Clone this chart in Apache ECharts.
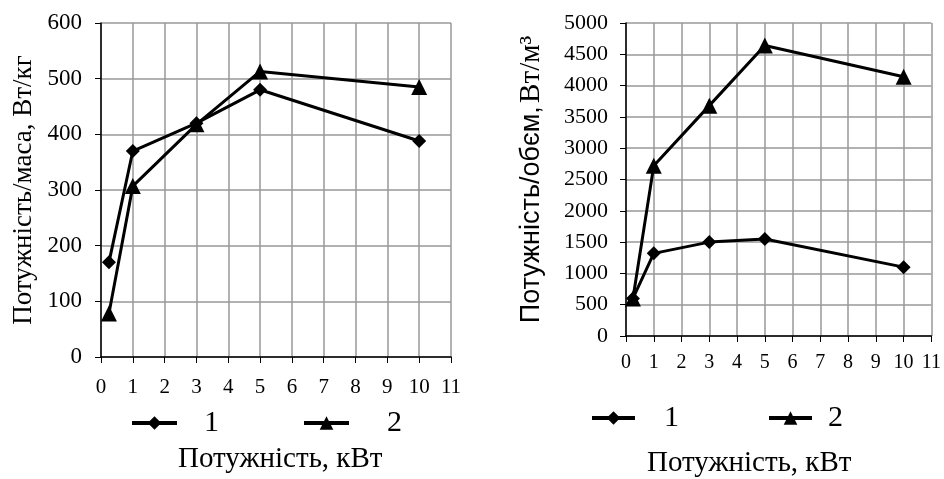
<!DOCTYPE html>
<html>
<head>
<meta charset="utf-8">
<script src="https://cdn.jsdelivr.net/npm/echarts@6/dist/echarts.min.js"></script>
<style>
  html, body { margin: 0; padding: 0; background: #fff; }
  #chart { width: 944px; height: 479px; }
</style>
</head>
<body>
<div id="chart"></div>
<script>
  // power, kW
  var powerKw = [0.25, 1, 3, 5, 10];
  // left: power / mass, W/kg
  var massSeries1 = [170, 370, 420, 480, 388];
  var massSeries2 = [78, 307, 418, 513, 485];
  // right: power / volume, W/m3
  var volumeSeries1 = [600, 1320, 1500, 1550, 1100];
  var volumeSeries2 = [600, 2720, 3680, 4640, 4140];
  var xTicks = [0, 1, 2, 3, 4, 5, 6, 7, 8, 9, 10, 11];

  var serif = 'Liberation Serif';

  var pairs = function (xs, ys) {
    var out = [];
    for (var i = 0; i < xs.length; i++) {
      out.push([xs[i], ys[i]]);
    }
    return out;
  };

  var xAxisFor = function (gridIndex, labelMargin, fontSize) {
    return {
      type: 'value', gridIndex: gridIndex,
      min: xTicks[0], max: xTicks[xTicks.length - 1], interval: 1,
      axisLine: {lineStyle: {color: '#000', width: 1.5}},
      axisTick: {show: true, length: 6, lineStyle: {color: '#000'}},
      axisLabel: {color: '#000', fontFamily: serif, fontSize: fontSize, margin: labelMargin},
      splitLine: {show: true, lineStyle: {color: '#999', width: 1.5}}
    };
  };

  var lineSeries = function (name, symbol, size, xi, data) {
    return {
      name: name, type: 'line', xAxisIndex: xi, yAxisIndex: xi,
      data: data, symbol: symbol, symbolSize: size,
      itemStyle: {color: '#000'},
      lineStyle: {color: '#000', width: 3},
      animation: false
    };
  };

  var legendItem = function (name, pad) {
    return {name: name, textStyle: {padding: [0, 0, 0, pad]}, lineStyle: {width: 4}};
  };

  var chart = echarts.init(document.getElementById('chart'));
  chart.setOption({
    backgroundColor: '#fff',
    grid: [
      {left: 101, top: 23, width: 350, height: 334},
      {left: 626, top: 23, width: 306, height: 313}
    ],
    xAxis: [xAxisFor(0, 20, 21), xAxisFor(1, 17, 20)],
    yAxis: [
      {
        type: 'value', gridIndex: 0, min: 0, max: 600, interval: 100,
        name: 'Потужність/маса, Вт/кг', nameLocation: 'middle', nameGap: 64, nameRotate: 90,
        nameTextStyle: {color: '#000', fontFamily: serif, fontSize: 27},
        axisLine: {show: true, lineStyle: {color: '#000', width: 1.5}},
        axisTick: {show: true, length: 6, lineStyle: {color: '#000'}},
        axisLabel: {color: '#000', fontFamily: serif, fontSize: 23, margin: 19},
        splitLine: {show: true, lineStyle: {color: '#999', width: 1.5}}
      },
      {
        type: 'value', gridIndex: 1, min: 0, max: 5000, interval: 500,
        name: '{s|Потужність/обєм,} {t|Вт/м³}', nameLocation: 'middle', nameGap: 80, nameRotate: 90,
        nameTextStyle: {
          color: '#000',
          rich: {
            s: {fontFamily: 'Liberation Sans', fontSize: 27, color: '#000'},
            t: {fontFamily: serif, fontSize: 29, color: '#000'}
          }
        },
        axisLine: {show: true, lineStyle: {color: '#000', width: 1.5}},
        axisTick: {show: true, length: 6, lineStyle: {color: '#000'}},
        axisLabel: {color: '#000', fontFamily: serif, fontSize: 22, margin: 18,
          formatter: function (v) { return String(v); }},
        splitLine: {show: true, lineStyle: {color: '#999', width: 1.5}}
      }
    ],
    legend: [
      {
        left: 125, top: 403, itemGap: 83, itemWidth: 45, itemHeight: 17,
        lineStyle: {width: 4},
        textStyle: {fontFamily: serif, fontSize: 30, color: '#000'},
        data: [legendItem('1', 22), legendItem('2', 33)]
      },
      {
        left: 585, top: 398, itemGap: 88, itemWidth: 43, itemHeight: 17,
        lineStyle: {width: 4},
        textStyle: {fontFamily: serif, fontSize: 30, color: '#000'},
        data: [legendItem('1', 24), legendItem('2', 11)]
      }
    ],
    graphic: [
      {type: 'text', left: 178, top: 445,
        style: {text: 'Потужність, кВт', font: '29px "Liberation Serif"', fill: '#000'}},
      {type: 'text', left: 647, top: 449,
        style: {text: 'Потужність, кВт', font: '29px "Liberation Serif"', fill: '#000'}}
    ],
    series: [
      lineSeries('1', 'diamond', 14, 0, pairs(powerKw, massSeries1)),
      lineSeries('2', 'triangle', 16, 0, pairs(powerKw, massSeries2)),
      lineSeries('1', 'diamond', 14, 1, pairs(powerKw, volumeSeries1)),
      lineSeries('2', 'triangle', 16, 1, pairs(powerKw, volumeSeries2))
    ]
  });
</script>
</body>
</html>
